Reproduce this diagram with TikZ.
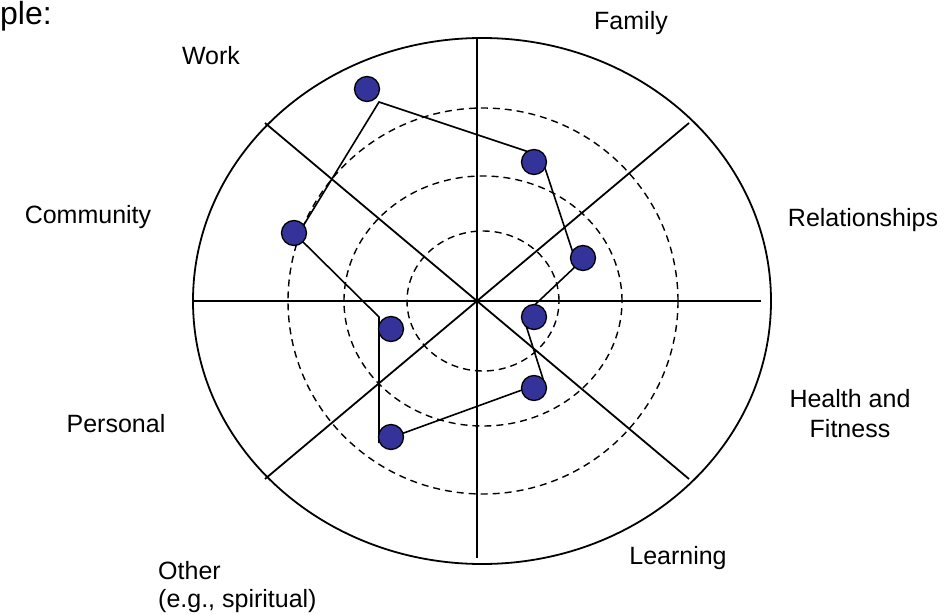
\documentclass[tikz,border=0pt]{standalone}
\usepackage{fontspec}
\setmainfont{Liberation Sans}
\definecolor{dotblue}{RGB}{51,51,153}
\begin{document}
\begin{tikzpicture}[x=1pt,y=-1pt,
  spoke/.style={line width=1.8pt},
  ring/.style={line width=1.4pt, dash pattern=on 7pt off 5pt},
  trail/.style={line width=1.6pt, line join=miter},
  dot/.style={circle, draw=black, line width=1.3pt, fill=dotblue, minimum size=25pt, inner sep=0pt},
  lbl/.style={font=\fontsize{25}{29}\selectfont, inner sep=0pt, anchor=base}]
\useasboundingbox (0,0) rectangle (946,615);
% outer boundary
\draw[spoke] (482,301) ellipse [x radius=289pt, y radius=263pt];
% dashed rings
\draw[ring] (483,301) ellipse [x radius=195pt, y radius=193pt];
\draw[ring] (483,301) ellipse [x radius=139pt, y radius=125pt];
\draw[ring] (483,301) ellipse [x radius=76pt, y radius=70pt];
% spokes
\coordinate (c) at (477,301);
\coordinate (sN) at (477,38);
\coordinate (sS) at (477,558);
\coordinate (sW) at (193,301);
\coordinate (sE) at (761,301);
\coordinate (sNW) at (265,123);
\coordinate (sNE) at (689,123);
\coordinate (sSW) at (265,479);
\coordinate (sSE) at (689,479);
\draw[spoke] (sN) -- (sS);
\draw[spoke] (sW) -- (sE);
\draw[spoke] (sNW) -- (sSE);
\draw[spoke] (sNE) -- (sSW);
% trail
\coordinate (pWork) at (379,102);
\coordinate (pFam) at (541,156);
\coordinate (pRel) at (577,265);
\coordinate (pHea) at (523,316);
\coordinate (pLea) at (544,382);
\coordinate (pOth) at (379,442);
\coordinate (pPer) at (379,317);
\coordinate (pCom) at (297,236);
\draw[trail] (pWork) -- (pFam) -- (pRel) -- (pHea) -- (pLea) -- (pOth) -- (pPer) -- (pCom) -- cycle;
% dots
\node[dot] (dWork) at (367,89) {};
\node[dot] (dFam) at (534,162) {};
\node[dot] (dRel) at (583,258) {};
\node[dot] (dHea) at (534,317) {};
\node[dot] (dLea) at (534,388) {};
\node[dot] (dOth) at (391,437) {};
\node[dot] (dPer) at (391,329) {};
\node[dot] (dCom) at (294,233) {};
% labels
\node[lbl, anchor=base west, font=\fontsize{32}{36}\selectfont] (tple) at (0,25) {ple:};
\node[lbl] (tWork) at (211,65) {Work};
\node[lbl] (tFam) at (631,30) {Family};
\node[lbl] (tCom) at (88,223) {Community};
\node[lbl] (tRel) at (863,226) {Relationships};
\node[lbl] (tHea1) at (850,407) {Health and};
\node[lbl] (tHea2) at (850,437) {Fitness};
\node[lbl] (tPer) at (116,432) {Personal};
\node[lbl] (tLea) at (678,564) {Learning};
\node[lbl, anchor=base west] (tOth1) at (158,579) {Other};
\node[lbl, anchor=base west] (tOth2) at (158,607) {(e.g., spiritual)};
\end{tikzpicture}
\end{document}
